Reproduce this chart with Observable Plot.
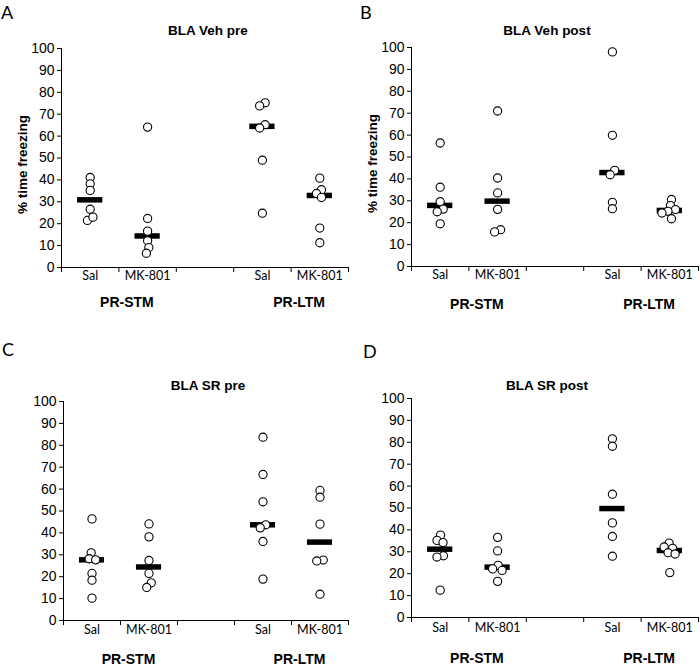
<!DOCTYPE html>
<html><head><meta charset="utf-8">
<script src="https://cdn.jsdelivr.net/npm/d3@7"></script>
<script src="https://cdn.jsdelivr.net/npm/@observablehq/plot@0.6"></script>
<style>
body{margin:0;background:#fff;}
#root{position:relative;width:700px;height:666px;overflow:hidden;font-family:"Liberation Sans",Arial,sans-serif;color:#000;}
.panel{position:absolute;}
.letter{position:absolute;font-family:Lato,sans-serif;font-size:18px;line-height:1;}
.title{position:absolute;font-weight:bold;font-size:13.5px;transform:translate(-50%,-50%);white-space:nowrap;}
</style></head><body><div id="root"></div>
<script>
// ---- labels ----
const categories = ["Sal", "MK-801", "Sal", "MK-801"];
const groups = ["PR-STM", "PR-LTM"];
const panelTitles = ["BLA Veh pre", "BLA Veh post", "BLA SR pre", "BLA SR post"];
const panelLetters = ["A", "B", "C", "D"];
const yLabel = "% time freezing";
const yTicks = [0, 10, 20, 30, 40, 50, 60, 70, 80, 90, 100];

// ---- values (% time freezing, one array per group) ----
const vehPreStmSal  = [41.1, 38.2, 35.2, 26.6, 21.5, 23.0];
const vehPreStmMk   = [64.1, 22.4, 16.6, 12.2, 9.1, 6.5];
const vehPreLtmSal  = [75.2, 73.8, 65.2, 63.7, 49.0, 24.8];
const vehPreLtmMk   = [40.8, 35.5, 33.8, 32.0, 18.0, 11.3];

const vehPostStmSal = [56.4, 36.2, 29.6, 26.2, 25.0, 19.5];
const vehPostStmMk  = [71.0, 40.4, 33.6, 26.1, 16.8, 15.8];
const vehPostLtmSal = [98.0, 59.9, 43.9, 41.9, 29.3, 26.4];
const vehPostLtmMk  = [30.6, 27.8, 26.0, 25.2, 24.4, 21.8];

const srPreStmSal   = [46.4, 30.9, 28.2, 27.7, 21.5, 18.4, 10.2];
const srPreStmMk    = [44.1, 38.2, 27.4, 21.5, 17.2, 15.1];
const srPreLtmSal   = [83.7, 66.7, 54.2, 43.7, 42.3, 36.1, 18.9];
const srPreLtmMk    = [59.4, 56.3, 44.0, 27.6, 27.2, 12.0];

const srPostStmSal  = [37.6, 35.2, 34.2, 28.2, 27.6, 12.5];
const srPostStmMk   = [36.6, 30.4, 23.8, 22.2, 21.5, 16.5];
const srPostLtmSal  = [81.6, 78.2, 56.3, 43.2, 37.0, 28.0];
const srPostLtmMk   = [34.0, 32.2, 31.6, 29.6, 29.0, 20.5];

const panelSeries = [
  [vehPreStmSal, vehPreStmMk, vehPreLtmSal, vehPreLtmMk],
  [vehPostStmSal, vehPostStmMk, vehPostLtmSal, vehPostLtmMk],
  [srPreStmSal, srPreStmMk, srPreLtmSal, srPreLtmMk],
  [srPostStmSal, srPostStmMk, srPostLtmSal, srPostLtmMk]
];

// ---- layout ----
const slots = [0, 1, 3, 4]; // category positions on a 5-slot axis (slot 2 is the gap)
const layout = [
  {left: 0,   top: 0,   w: 350, h: 330, mL: 61, mT: 48, mB: 63, catDy: 12, grpDy: 39, yLab: true,
   letter: [1, 3], title: [208, 30]},
  {left: 350, top: 0,   w: 350, h: 330, mL: 61, mT: 47, mB: 64, catDy: 12, grpDy: 42, yLab: true,
   letter: [10, 3], title: [197, 30]},
  {left: 0,   top: 330, w: 350, h: 336, mL: 63, mT: 71, mB: 46, catDy: 13, grpDy: 43, yLab: false,
   letter: [2, 10], title: [208, 55]},
  {left: 350, top: 330, w: 350, h: 336, mL: 61, mT: 68, mB: 49, catDy: 14, grpDy: 45, yLab: false,
   letter: [13, 12], title: [197, 55]}
];

// simple beeswarm offsets (pixels) so overlapping circles spread horizontally
function swarm(vals, pxPerUnit, minD) {
  const order = d3.range(vals.length).sort((a, b) => vals[b] - vals[a]);
  const placed = [];
  const off = new Array(vals.length).fill(0);
  for (const i of order) {
    const y = vals[i] * pxPerUnit;
    let best = 0;
    for (let k = 0; k < 60; k++) {
      const c = k === 0 ? 0 : (k % 2 ? -1 : 1) * Math.ceil(k / 2) * 0.5;
      if (placed.every(p => Math.hypot(p.x - c, p.y - y) >= minD)) { best = c; break; }
    }
    placed.push({x: best, y, i});
    off[i] = best;
  }
  // recenter chained clusters
  const sorted = placed.slice().sort((a, b) => b.y - a.y);
  let cluster = [sorted[0]];
  const flush = () => {
    const m = d3.mean(cluster, p => p.x);
    cluster.forEach(p => off[p.i] = p.x - m);
  };
  for (let k = 1; k < sorted.length; k++) {
    if (sorted[k - 1].y - sorted[k].y < minD) cluster.push(sorted[k]);
    else { flush(); cluster = [sorted[k]]; }
  }
  flush();
  return off;
}

const root = document.getElementById("root");

panelSeries.forEach((series, p) => {
  const L = layout[p];
  const mR = 2;
  const plotH = L.h - L.mT - L.mB;
  const plotW = L.w - L.mL - mR;
  const pxPerY = plotH / 100;
  const pxPerSlot = plotW / 5;

  const points = [];
  const medians = [];
  series.forEach((vals, s) => {
    const off = swarm(vals, pxPerY, 6.2);
    vals.forEach((v, i) => points.push({slot: slots[s], v, x: slots[s] + 0.5 + off[i] / pxPerSlot}));
    medians.push({slot: slots[s], m: d3.median(vals)});
  });
  const catRows = categories.map((c, s) => ({label: c, slot: slots[s]}));
  const grpRows = groups.map((g, gi) => ({label: g, x: d3.mean([slots[gi * 2], slots[gi * 2 + 1]]) + 0.5}));

  const marks = [
    Plot.ruleX([0], {stroke: "#000", strokeWidth: 1}),
    Plot.ruleY([0], {stroke: "#000", strokeWidth: 1}),
    Plot.axisY({ticks: yTicks, tickSize: 4, tickPadding: 3, fontSize: 14, label: null,
      fontFamily: "Liberation Sans"}),
    Plot.axisX({ticks: d3.range(6), tickSize: 5, tickFormat: () => "", label: null}),
    Plot.ruleY(medians, {y: "m", x1: d => d.slot + 0.5 - 0.22, x2: d => d.slot + 0.5 + 0.22,
      stroke: "#000", strokeWidth: 5.5}),
    Plot.dot(points, {x: "x", y: "v", r: 4.1, fill: "#fff", stroke: "#000", strokeWidth: 1.1}),
    Plot.text(catRows, {x: d => d.slot + 0.5, text: "label", frameAnchor: "bottom", dy: L.catDy,
      fontFamily: "Lato", fontSize: 12.5}),
    Plot.text(grpRows, {x: "x", text: "label", frameAnchor: "bottom", dy: L.grpDy, dx: 8,
      fontWeight: "bold", fontSize: 14, fontFamily: "Liberation Sans"})
  ];
  if (L.yLab) {
    marks.push(Plot.text([yLabel], {text: d => d, frameAnchor: "left", textAnchor: "middle",
      rotate: -90, dx: -39, dy: 6.5,
      fontWeight: "bold", fontSize: 13.5, fontFamily: "Liberation Sans"}));
  }

  const chart = Plot.plot({
    width: L.w, height: L.h,
    marginLeft: L.mL, marginRight: mR, marginTop: L.mT, marginBottom: L.mB,
    x: {type: "linear", domain: [0, 5], axis: null},
    y: {domain: [0, 100], axis: null},
    style: {fontFamily: "Liberation Sans", fontSize: "14px", overflow: "visible", color: "#000", background: "transparent"},
    marks
  });

  const div = document.createElement("div");
  div.className = "panel";
  div.style.left = L.left + "px";
  div.style.top = L.top + "px";
  div.style.width = L.w + "px";
  div.style.height = L.h + "px";
  div.appendChild(chart);

  const letter = document.createElement("div");
  letter.className = "letter";
  letter.textContent = panelLetters[p];
  letter.style.left = L.letter[0] + "px";
  letter.style.top = L.letter[1] + "px";
  div.appendChild(letter);

  const title = document.createElement("div");
  title.className = "title";
  title.textContent = panelTitles[p];
  title.style.left = L.title[0] + "px";
  title.style.top = L.title[1] + "px";
  div.appendChild(title);

  root.appendChild(div);
});
</script>
</body></html>
